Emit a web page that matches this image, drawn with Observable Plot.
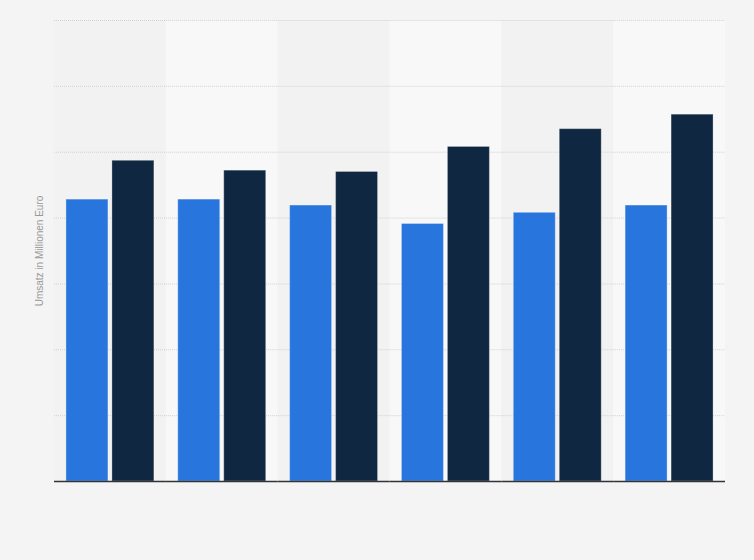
<!DOCTYPE html>
<html>
<head>
<meta charset="utf-8">
<script src="https://cdn.jsdelivr.net/npm/d3@7"></script>
<script src="https://cdn.jsdelivr.net/npm/@observablehq/plot@0.6"></script>
<style>
  html, body { margin: 0; padding: 0; background: #f4f4f4; }
  #chart { width: 754px; height: 560px; }
  svg { display: block; }
</style>
</head>
<body>
<div id="chart"></div>
<script>
// Groups (no labels visible in the reference)
const groups = ["G1", "G2", "G3", "G4", "G5", "G6"];
const seriesNames = ["Serie A", "Serie B"];
const seriesA = [428, 428, 419, 391, 408, 419];
const seriesB = [487, 472, 470, 508, 535, 557];
const yTicks = [0, 100, 200, 300, 400, 500, 600, 700];
const yLabel = "Umsatz in Millionen Euro";

const data = [];
groups.forEach((g, i) => {
  data.push({group: g, series: seriesNames[0], value: seriesA[i]});
  data.push({group: g, series: seriesNames[1], value: seriesB[i]});
});
const bands = groups.map((g, i) => ({group: g, idx: i}));

const chart = Plot.plot({
  width: 754,
  height: 560,
  marginLeft: 54,
  marginRight: 29,
  marginTop: 20,
  marginBottom: 79,
  style: {background: "#f4f4f4", fontFamily: "Liberation Sans, Arial, sans-serif"},
  fx: {domain: groups, paddingInner: 0, paddingOuter: 0, round: false, axis: null, label: null},
  x: {domain: seriesNames, paddingInner: 0.087, paddingOuter: 0.26, round: false, axis: null},
  y: {domain: [0, 700], axis: null},
  color: {domain: seriesNames, range: ["#2876dd", "#0f2740"]},
  marks: [
    Plot.barY(bands, {fx: "group", y1: 0, y2: 700, fill: d => d.idx % 2 ? "#f8f8f8" : "#f2f2f2"}),
    Plot.ruleY(yTicks.slice(1), {stroke: "#d2d2d2", strokeDasharray: "1,1", strokeWidth: 1}),
    Plot.barY(data, {fx: "group", x: "series", y: "value", fill: "series", stroke: "#ffffff", strokeOpacity: 0.3, strokeWidth: 1}),
    Plot.ruleY([0], {stroke: "#333333", strokeWidth: 1.5}),
    Plot.text([yLabel], {fx: () => groups[0], text: d => d, frameAnchor: "left", textAnchor: "middle", dx: -15, rotate: -90, fill: "#999999", fontSize: 10})
  ]
});
document.getElementById("chart").appendChild(chart);
</script>
</body>
</html>
